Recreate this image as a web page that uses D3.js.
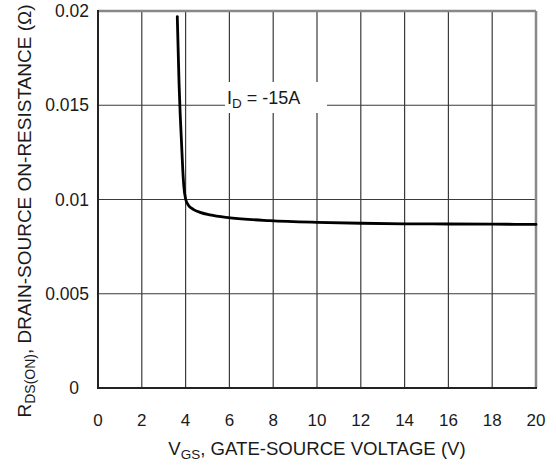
<!DOCTYPE html>
<html><head><meta charset="utf-8">
<script src="https://cdn.jsdelivr.net/npm/d3@7"></script>
<style>
body{margin:0;background:#fff;}
text{font-family:"Liberation Sans",Arial,sans-serif;fill:#1a1a1a;}
</style></head>
<body><svg id="c" width="556" height="466"></svg>
<script>
const vgs = [3.62, 3.70, 3.75, 3.81, 3.87, 3.92, 4.00, 4.12, 4.35, 4.66, 5.11, 6.03, 7.85, 10, 12, 14, 16, 18, 20];
const rds = [0.0197, 0.0162, 0.0146, 0.0131, 0.0116, 0.0107, 0.01003, 0.00971, 0.00948, 0.00932, 0.00918, 0.00903, 0.00888, 0.00879, 0.00874, 0.00871, 0.00870, 0.00869, 0.00868];
const xTicks = [0, 2, 4, 6, 8, 10, 12, 14, 16, 18, 20];
const yTicks = [0, 0.005, 0.01, 0.015, 0.02];
const yTickLabels = ["0", "0.005", "0.01", "0.015", "0.02"];

const W = 556, H = 466;
const m = {left: 98, top: 11, right: 20, bottom: 78};
const svg = d3.select("#c");
const x = d3.scaleLinear().domain([0, 20]).range([m.left, W - m.right]);
const y = d3.scaleLinear().domain([0, 0.02]).range([H - m.bottom, m.top]);

// grid
const g = svg.append("g");
g.selectAll(".vx").data(xTicks.slice(1, -1)).join("line")
  .attr("x1", d => x(d)).attr("x2", d => x(d)).attr("y1", y(0.02)).attr("y2", y(0))
  .attr("stroke", "#3a3a3a").attr("stroke-width", 1.2);
g.selectAll(".hy").data(yTicks.slice(1, -1)).join("line")
  .attr("x1", x(0)).attr("x2", x(20)).attr("y1", d => y(d)).attr("y2", d => y(d))
  .attr("stroke", "#3a3a3a").attr("stroke-width", 1.2);

// label background
svg.append("rect").attr("x", 225).attr("y", 82).attr("width", 102).attr("height", 31).attr("fill", "#fff");

// borders
svg.append("line").attr("x1", x(0)).attr("x2", x(20)).attr("y1", y(0.02)).attr("y2", y(0.02)).attr("stroke", "#888").attr("stroke-width", 2.5);
svg.append("line").attr("x1", x(20)).attr("x2", x(20)).attr("y1", y(0.02)).attr("y2", y(0)).attr("stroke", "#888").attr("stroke-width", 2.5);
svg.append("line").attr("x1", x(0)).attr("x2", x(0)).attr("y1", y(0.02) - 1).attr("y2", y(0) + 1).attr("stroke", "#222").attr("stroke-width", 2);
svg.append("line").attr("x1", x(0) - 1).attr("x2", x(20) + 1).attr("y1", y(0)).attr("y2", y(0)).attr("stroke", "#222").attr("stroke-width", 2);

// curve
const pts = vgs.map((v, i) => [v, rds[i]]);
svg.append("path").datum(pts)
  .attr("d", d3.line().x(d => x(d[0])).y(d => y(d[1])).curve(d3.curveMonotoneX))
  .attr("fill", "none").attr("stroke", "#000").attr("stroke-width", 2.8)
  .attr("stroke-linejoin", "round").attr("stroke-linecap", "round");

// x tick labels
svg.selectAll(".xt").data(xTicks).join("text")
  .attr("x", d => x(d)).attr("y", 426).attr("text-anchor", "middle")
  .attr("font-size", 17).text(d => d);

// y tick labels
svg.selectAll(".yt").data(yTicks).join("text")
  .attr("x", (d, i) => i === 0 ? 74 : 89).attr("y", d => y(d) + 6)
  .attr("text-anchor", (d, i) => i === 0 ? "middle" : "end")
  .attr("font-size", 17.5).text((d, i) => yTickLabels[i]);

// x title
const xt = svg.append("text").attr("x", 317).attr("y", 455).attr("text-anchor", "middle").attr("font-size", 18.6);
xt.append("tspan").text("V");
xt.append("tspan").attr("font-size", 13.5).attr("dy", 4).text("GS");
xt.append("tspan").attr("dy", -4).text(", GATE-SOURCE VOLTAGE (V)");

// y title
const yt = svg.append("text").attr("transform", "translate(31,211) rotate(-90)").attr("text-anchor", "middle").attr("font-size", 19);
yt.append("tspan").text("R");
yt.append("tspan").attr("font-size", 14).attr("dy", 4).text("DS(ON)");
yt.append("tspan").attr("dy", -4).text(", DRAIN-SOURCE ON-RESISTANCE (Ω)");

// annotation
const an = svg.append("text").attr("x", 227).attr("y", 104).attr("font-size", 18);
an.append("tspan").text("I");
an.append("tspan").attr("font-size", 13.5).attr("dy", 4).text("D");
an.append("tspan").attr("dy", -4).text(" = -15A");
</script></body></html>
